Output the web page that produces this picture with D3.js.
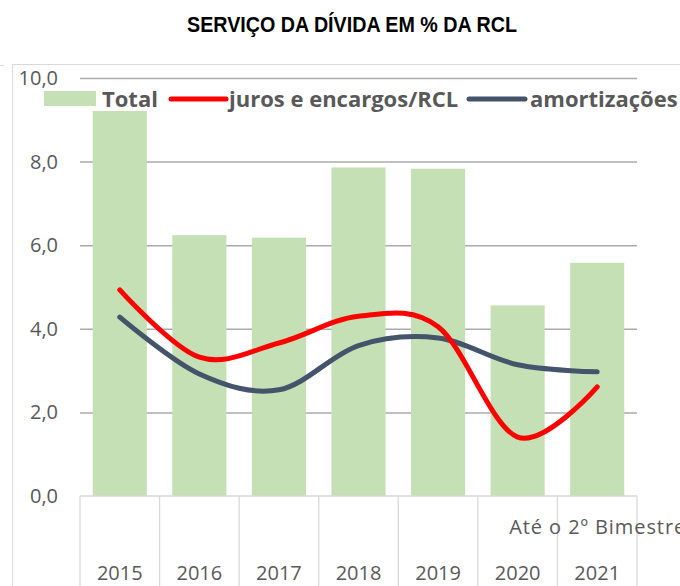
<!DOCTYPE html>
<html><head><meta charset="utf-8">
<script src="https://cdn.jsdelivr.net/npm/d3@7"></script>
<style>body{margin:0;background:#fff;overflow:hidden}</style>
</head><body><svg id="c" width="680" height="586"></svg>
<script>
const years = ["2015","2016","2017","2018","2019","2020","2021"];
const subLabels = ["","","","","","","Até o 2º Bimestre"];
const total = [9.21, 6.24, 6.18, 7.86, 7.83, 4.56, 5.58];
const juros = [4.93, 3.32, 3.66, 4.30, 4.05, 1.41, 2.61];
const amortizacoes = [4.28, 2.92, 2.54, 3.60, 3.78, 3.14, 2.97];
const yTicks = [0, 2, 4, 6, 8, 10];
const seriesNames = ["Total", "juros e encargos/RCL", "amortizações"];
const title = "SERVIÇO DA DÍVIDA EM % DA RCL";

const colors = {bar: "#C5E0B4", juros: "#FF0000", amort: "#44546A", text: "#595959"};
const svg = d3.select("#c");
const font = "'Open Sans', sans-serif";

const x = d3.scaleBand().domain(years).range([80, 637]).paddingInner(0.32).paddingOuter(0.16);
const y = d3.scaleLinear().domain([0, 10]).range([496, 78]);

// chart border
svg.append("rect").attr("x", 12.5).attr("y", 64.5).attr("width", 700).attr("height", 600)
  .attr("fill", "none").attr("stroke", "#D9D9D9");
svg.append("line").attr("x1", 0).attr("x2", 4).attr("y1", 65.5).attr("y2", 65.5)
  .attr("stroke", "#D9D9D9");

// title
svg.append("text").attr("x", 352).attr("y", 32).attr("text-anchor", "middle")
  .attr("font-family", "'Liberation Sans Narrow', 'Arial Narrow', 'Liberation Sans', sans-serif")
  .attr("font-weight", "bold").attr("font-size", 22).attr("fill", "#000")
  .attr("textLength", 330).attr("lengthAdjust", "spacingAndGlyphs")
  .text(title);

// gridlines
const grid = svg.append("g").attr("transform", "translate(80,0)")
  .call(d3.axisLeft(y).tickValues(yTicks.filter(d => d > 0)).tickSize(-557).tickFormat(""));
grid.select(".domain").remove();
grid.selectAll("line").attr("stroke", "#ABABAB").attr("stroke-width", 1.5);

// y axis labels
const ya = svg.append("g").attr("transform", "translate(58,0)")
  .call(d3.axisLeft(y).tickValues(yTicks).tickSize(0).tickPadding(0)
    .tickFormat(d => d3.format(".1f")(d).replace(".", ",")));
ya.select(".domain").remove();
ya.selectAll("text").attr("font-family", font).attr("font-size", 20).attr("fill", colors.text);

// bars
svg.append("g").selectAll("rect").data(total).join("rect")
  .attr("x", (d, i) => x(years[i])).attr("width", x.bandwidth())
  .attr("y", d => y(d)).attr("height", d => y(0) - y(d))
  .attr("fill", colors.bar);

// category axis
const step = x.step();
const x0 = x.range()[0];
svg.append("line").attr("x1", 80).attr("x2", 637).attr("y1", y(0)).attr("y2", y(0))
  .attr("stroke", "#D9D9D9").attr("stroke-width", 1.3);
svg.append("g").selectAll("line").data(d3.range(years.length + 1)).join("line")
  .attr("x1", i => x0 + i * step).attr("x2", i => x0 + i * step)
  .attr("y1", y(0)).attr("y2", 586).attr("stroke", "#D9D9D9").attr("stroke-width", 1.3);

const xa = svg.append("g").attr("transform", "translate(0,573)")
  .call(d3.axisBottom(x).tickSize(0).tickPadding(0));
xa.select(".domain").remove();
xa.selectAll("text").attr("font-family", font).attr("font-size", 20).attr("fill", colors.text)
  .attr("dy", "0.35em");

svg.append("g").selectAll("text").data(subLabels).join("text")
  .attr("x", (d, i) => x(years[i]) + x.bandwidth() / 2).attr("y", 527).attr("dy", "0.35em")
  .attr("text-anchor", "middle").attr("font-family", font).attr("font-size", 20)
  .attr("fill", colors.text).attr("textLength", d => d ? 176 : null).text(d => d);

// lines
const line = d3.line().x((d, i) => x(years[i]) + x.bandwidth() / 2).y(d => y(d))
  .curve(d3.curveCatmullRom.alpha(0));
svg.append("path").datum(amortizacoes).attr("d", line).attr("fill", "none")
  .attr("stroke", colors.amort).attr("stroke-width", 5).attr("stroke-linecap", "round");
svg.append("path").datum(juros).attr("d", line).attr("fill", "none")
  .attr("stroke", colors.juros).attr("stroke-width", 5).attr("stroke-linecap", "round");

// legend
const lg = svg.append("g");
lg.append("rect").attr("x", 44).attr("y", 91).attr("width", 52).attr("height", 15).attr("fill", colors.bar);
lg.append("line").attr("x1", 171).attr("x2", 226).attr("y1", 99).attr("y2", 99)
  .attr("stroke", colors.juros).attr("stroke-width", 5).attr("stroke-linecap", "round");
lg.append("line").attr("x1", 469).attr("x2", 525).attr("y1", 99).attr("y2", 99)
  .attr("stroke", colors.amort).attr("stroke-width", 5).attr("stroke-linecap", "round");
const legX = [102, 229, 530];
lg.selectAll("text").data(seriesNames).join("text")
  .attr("x", (d, i) => legX[i]).attr("y", 99).attr("dy", "0.36em")
  .attr("font-family", font).attr("font-weight", "bold").attr("font-size", 22)
  .attr("fill", colors.text).text(d => d);
</script>
</body></html>
